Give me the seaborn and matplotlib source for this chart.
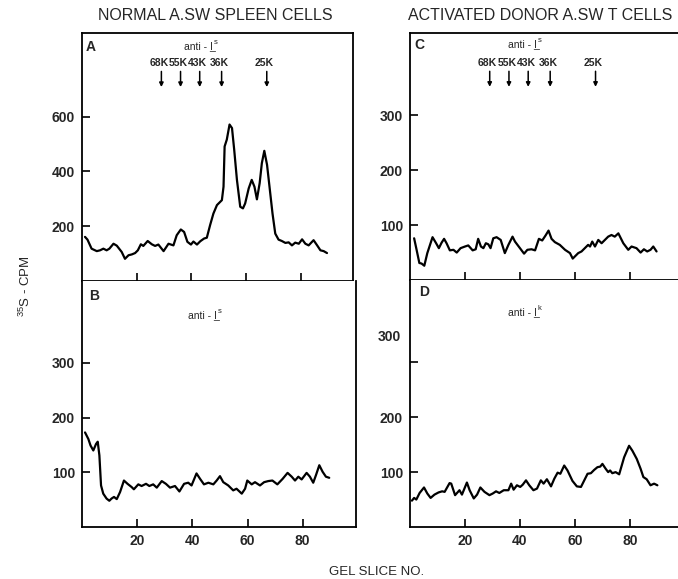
import numpy as np
import pandas as pd
import matplotlib
matplotlib.use("Agg")
import matplotlib.pyplot as plt
import seaborn as sns

# --- data (gel slice no., 35S cpm) ---
a_x = [1.1, 2, 3.5, 5.4, 6.6, 7.8, 9, 10, 11.5, 12.7, 14.5, 15.7, 17, 18.2, 19.4, 20.4,
       21.5, 22.4, 24, 25.5, 26.7, 27.9, 29.8, 31.6, 33.4, 34.6, 36.1, 37.3, 38.5, 39.8,
       40.7, 42, 43.2, 44.6, 45.6, 46.8, 48, 49.3, 51.1, 51.7, 52.1, 52.9, 53.9, 54.8,
       55.6, 56.6, 57.8, 58.8, 59.6, 60.9, 62, 63, 63.9, 64.9, 65.7, 66.6, 67.6, 68.5,
       69.6, 70.6, 71.8, 73, 74.3, 75.5, 76.7, 77.9, 79.2, 80.4, 81.6, 82.8, 84.6, 85.9,
       87.1, 88.3, 89.5]
a_y = [161, 151, 118, 109, 112, 118, 112, 118, 136, 129, 106, 81, 94, 97, 102, 112,
       134, 128, 146, 134, 128, 133, 109, 136, 130, 167, 188, 179, 143, 133,
       144, 133, 145, 155, 158, 204, 246, 277, 295, 344, 491, 516, 571, 558,
       479, 369, 271, 265, 283, 338, 369, 344, 298, 357, 430, 475, 424, 344,
       246, 173, 151, 146, 139, 141, 130, 140, 136, 152, 136, 130, 149, 130,
       112, 109, 102]

b_x = [1.1, 2.3, 3.1, 4.1, 5.1, 5.7, 6.3, 6.9, 7.7, 8.9, 9.9, 10.7, 11.6, 12.6, 13.8,
       15.2, 16.5, 18, 18.8, 20.4, 21.6, 23.2, 24.4, 25.8, 27.1, 28.9, 30.4, 31.9, 33.7,
       35.3, 37, 38.5, 39.7, 41.5, 42.8, 44.2, 45.8, 47.6, 48.8, 50, 51.2, 53, 54.8, 56,
       57.9, 59.1, 59.9, 61.5, 62.7, 64.5, 66, 67.5, 69, 70.8, 72.7, 74.5, 76, 77.2,
       78.4, 79.6, 81.4, 82.6, 83.8, 84.8, 86, 87.2, 88.4, 89.6]
b_y = [173, 161, 149, 140, 152, 156, 131, 76, 61, 52, 48, 52, 55, 51, 64,
       85, 79, 73, 69, 78, 75, 79, 75, 78, 72, 84, 79, 72, 75,
       65, 79, 81, 76, 98, 88, 78, 81, 78, 85, 93, 82, 76, 67, 70,
       61, 70, 85, 78, 82, 76, 82, 84, 85, 78, 88, 99, 92, 85,
       92, 87, 99, 92, 81, 95, 113, 101, 92, 90]

c_x = [1.5, 2.4, 3.4, 4.2, 5.2, 6.3, 8.2, 9.5, 10.5, 11.5, 12.4, 13.3, 14.5, 15.8, 17,
       18.4, 20, 21.2, 22.8, 23.9, 24.8, 25.8, 26.7, 27.6, 28.5, 29.3, 30.3, 31.5, 33,
       34.5, 35.8, 37.3, 38.2, 39.4, 41.5, 42.7, 44.2, 45.5, 46.9, 48.1, 49.3, 50.4,
       51.5, 52.7, 54.5, 56.4, 58.2, 59.2, 60, 61.2, 62.4, 63.6, 64.8, 65.5, 66.3, 67.3,
       68.5, 69.7, 70.9, 72.1, 73.3, 74.5, 75.8, 77.6, 79.4, 80.6, 82.4, 83.9, 85.1,
       86.3, 87.5, 88.5, 89.7]
c_y = [76, 55, 31, 30, 26, 49, 78, 67, 58, 68, 75, 67, 54, 55, 50,
       58, 61, 63, 54, 56, 75, 61, 58, 67, 65, 58, 76, 78, 73,
       49, 64, 79, 70, 62, 48, 55, 56, 54, 75, 72, 81, 90,
       75, 69, 64, 55, 49, 39, 43, 49, 52, 58, 64, 61, 70, 61,
       73, 67, 73, 79, 82, 79, 85, 67, 55, 61, 58, 50, 56,
       52, 55, 61, 52]

d_x = [0.7, 1.5, 2.3, 3.5, 5.1, 6.3, 7.5, 8.9, 10.4, 11.7, 12.6, 14.4, 15, 16.4, 18,
       18.9, 20.7, 21.7, 23.2, 24.4, 25.6, 27.1, 28.9, 30.1, 31.3, 32.5, 34.1, 35.8,
       36.8, 37.7, 38.9, 40.1, 41, 42.2, 43.4, 44.9, 46.2, 47.6, 48.6, 49.8, 51.3, 52.5,
       53.7, 54.7, 56.1, 57.3, 59.1, 60.7, 62.2, 63.4, 64.6, 65.8, 67, 68.2, 69.2, 70,
       71.2, 72.1, 72.8, 73.6, 74.8, 76.1, 77.9, 79.7, 80.9, 82.5, 83.9, 84.9, 86.1,
       87.5, 88.8, 90]
d_y = [48, 53, 50, 62, 72, 61, 53, 59, 63, 65, 64, 80, 79, 58, 67,
       59, 81, 67, 52, 59, 72, 64, 58, 61, 65, 62, 67, 67,
       79, 68, 76, 73, 77, 85, 76, 67, 70, 85, 79, 87, 74, 88,
       99, 97, 112, 103, 84, 74, 73, 85, 97, 98, 104, 109, 110, 115,
       106, 100, 103, 98, 100, 96, 127, 148, 139, 124, 106, 91, 87,
       76, 79, 76]

mw_labels = ['68K', '55K', '43K', '36K', '25K']
mw_pos = [29, 36, 43, 51, 67.5]

sns.set_style("ticks")
plt.rcParams['font.family'] = ['Liberation Sans', 'DejaVu Sans']
plt.rcParams['mathtext.fontset'] = 'custom'
plt.rcParams['mathtext.rm'] = 'Liberation Sans'

fig = plt.figure(figsize=(6.78, 5.79), dpi=100)
W, H = 678.0, 579.0
axA = fig.add_axes([82 / W, (H - 281) / H, 271 / W, 248 / H])
axB = fig.add_axes([82 / W, (H - 527) / H, 274 / W, 246 / H])
axC = fig.add_axes([410 / W, (H - 280) / H, 268 / W, 247 / H])
axD = fig.add_axes([410 / W, (H - 527) / H, 268 / W, 247 / H])

panels = [(axA, a_x, a_y), (axB, b_x, b_y), (axC, c_x, c_y), (axD, d_x, d_y)]
for ax, xs, ys in panels:
    df = pd.DataFrame({'slice': xs, 'cpm': ys})
    sns.lineplot(data=df, x='slice', y='cpm', ax=ax, color='black', lw=1.6,
                 sort=False, estimator=None)
    ax.set_xlabel('')
    ax.set_ylabel('')
    ax.set_xticks([20, 40, 60, 80])
    ax.tick_params(direction='in', length=6, width=1.2, color='black',
                   labelsize=10, pad=5)
    for lab in ax.get_xticklabels() + ax.get_yticklabels():
        lab.set_fontweight('bold')
    for s in ax.spines.values():
        s.set_linewidth(1.3)
        s.set_color('black')

axA.set_xlim(0, 99)
axB.set_xlim(0, 99.3)
axC.set_xlim(0, 97.5)
axD.set_xlim(0, 97.5)

axA.set_ylim(0, 905)
axA.set_yticks([200, 400, 600])
for ax in (axB, axC, axD):
    ax.set_ylim(0, 450)
    ax.set_yticks([100, 200, 300])

# labels of top panels hidden
axA.tick_params(labelbottom=False)
axC.tick_params(labelbottom=False)

# spines
axB.spines['top'].set_visible(False)
axC.spines['right'].set_visible(False)
axD.spines['top'].set_visible(False)
axD.spines['right'].set_visible(False)

# D: the 300 label sits above its tick in the original
axD.set_yticklabels(['100', '200', ''])
axD.text(-0.035, 347, '300', transform=axD.get_yaxis_transform(), ha='right',
         va='center', fontsize=10, fontweight='bold')

# panel letters
axA.text(0.015, 0.944, 'A', transform=axA.transAxes, fontsize=10, fontweight='bold', va='center')
axB.text(0.026, 0.939, 'B', transform=axB.transAxes, fontsize=10, fontweight='bold', va='center')
axC.text(0.018, 0.95, 'C', transform=axC.transAxes, fontsize=10, fontweight='bold', va='center')
axD.text(0.034, 0.95, 'D', transform=axD.transAxes, fontsize=10, fontweight='bold', va='center')


def anti_label(ax, x, y, sup):
    # "anti - I" with underlined I, plus a small superscript haplotype
    t = ax.text(x - 1.0, y, 'anti - I\u0332', transform=ax.get_xaxis_transform(),
                ha='center', va='center', fontsize=7.5)
    ax.annotate(sup, xy=(1.0, 0.85), xycoords=t, xytext=(0.6, 0),
                textcoords='offset points', ha='left', va='center', fontsize=5.5)


anti_label(axA, 43.5, 0.948, 's')
anti_label(axC, 42, 0.955, 's')
anti_label(axB, 44.6, 0.862, 's')
anti_label(axD, 42, 0.87, 'k')

# molecular weight markers
for ax in (axA, axC):
    tr = ax.get_xaxis_transform()
    for lab, p in zip(mw_labels, mw_pos):
        ax.text(p - 0.8, 0.879, lab, transform=tr, ha='center', va='center',
                fontsize=7.5, fontweight='bold')
        ax.annotate('', xy=(p, 0.782), xytext=(p, 0.845), xycoords=tr, textcoords=tr,
                    arrowprops=dict(arrowstyle='-|>', lw=1.1, color='black',
                                    mutation_scale=6, shrinkA=0, shrinkB=0))

# titles and axis labels
fig.text(215 / W, 1 - 15 / H, 'NORMAL A.SW SPLEEN CELLS', ha='center', va='center', fontsize=11.5)
fig.text(408 / W, 1 - 15 / H, 'ACTIVATED DONOR A.SW T CELLS', ha='left', va='center', fontsize=11.5)
fig.text(25 / W, 1 - 286 / H, r'$^{35}$S - CPM', ha='center', va='center', rotation=90, fontsize=9.5)
fig.text(377 / W, 1 - 572 / H, 'GEL SLICE NO.', ha='center', va='center', fontsize=9.5)

fig.savefig('out.png', dpi=100)
